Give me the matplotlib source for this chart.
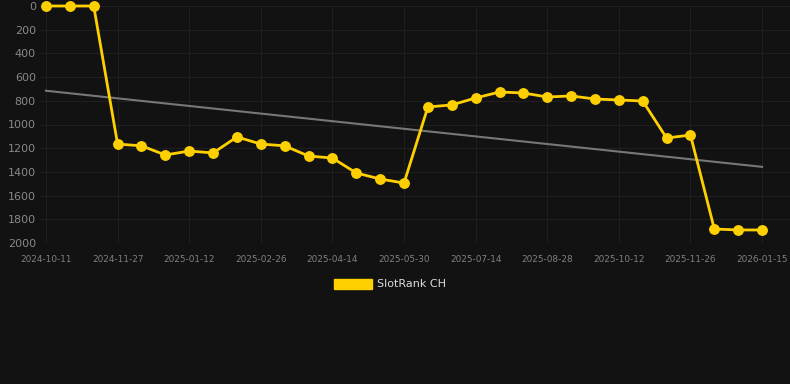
import matplotlib
matplotlib.use("Agg")
import matplotlib.pyplot as plt
from matplotlib.patches import Patch
import numpy as np

tick_labels = ["2024-10-11", "2024-11-27", "2025-01-12", "2025-02-26", "2025-04-14",
               "2025-05-30", "2025-07-14", "2025-08-28", "2025-10-12", "2025-11-26",
               "2026-01-15"]
rank = [0, 0, 0, 1165, 1180, 1257, 1224, 1240, 1105, 1165, 1180, 1266, 1283, 1409,
        1460, 1494, 852, 835, 776, 726, 734, 768, 759, 785, 793, 802, 1114, 1089,
        1882, 1890, 1890]
series_name = "SlotRank CH"

bg = "#121212"
fig = plt.figure(figsize=(7.9, 3.84), dpi=100, facecolor=bg)
ax = fig.add_axes([40/790, 1-243/384, 750/790, (243-6)/384])
ax.set_facecolor(bg)

x = np.arange(len(rank))
y = np.array(rank, dtype=float)

# trend line (linear fit)
coef = np.polyfit(x, y, 1)
ax.plot(x, np.polyval(coef, x), color="#777777", lw=1.5, zorder=2)

ax.plot(x, y, color="#FFD000", lw=2.0, marker="o", ms=6.8, zorder=3, clip_on=False)

ax.set_ylim(2000, 0)
ax.set_yticks(np.arange(0, 2001, 200))
ax.set_xlim(-0.25, 31.17)
ax.set_xticks(np.arange(0, len(rank), 3))
ax.set_xticklabels(tick_labels)

ax.grid(True, color="#1f1f1f", lw=0.8)
for s in ax.spines.values():
    s.set_visible(False)
ax.tick_params(axis="y", colors="#888888", labelsize=8, length=0, pad=3)
ax.tick_params(axis="x", colors="#808080", labelsize=6.4, length=0, pad=9)

leg = fig.legend(handles=[Patch(facecolor="#FFD000", edgecolor="#FFD000")],
                 labels=[series_name], loc="center", bbox_to_anchor=(390/790, 1-284/384),
                 frameon=False, fontsize=8, handlelength=3.4, handleheight=1.0,
                 handletextpad=0.5)
for t in leg.get_texts():
    t.set_color("#dddddd")

fig.savefig("out.png", dpi=100, facecolor=bg)
